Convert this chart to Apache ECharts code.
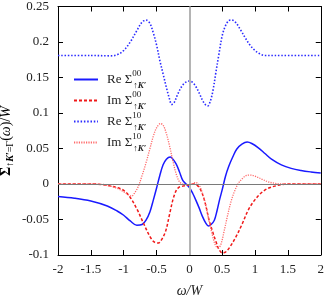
<!DOCTYPE html>
<html><head><meta charset="utf-8">
<script src="https://cdn.jsdelivr.net/npm/echarts@6/dist/echarts.min.js"></script>
<style>html,body{margin:0;padding:0;background:#fff}#c{width:327px;height:303px}</style>
</head><body><div id="c"></div>
<script>
// ---- data ----
const reS00_x = [-2,-1.75,-1.5,-1.25,-1.1,-1.0,-0.9,-0.8,-0.72,-0.66,-0.6,-0.55,-0.5,-0.45,-0.4,-0.35,-0.29,-0.25,-0.2,-0.15,-0.1,-0.05,0,0.05,0.1,0.15,0.2,0.25,0.29,0.33,0.38,0.42,0.46,0.5,0.55,0.6,0.66,0.72,0.8,0.88,0.95,1.05,1.15,1.25,1.4,1.55,1.7,1.85,2];
const reS00_y = [-0.0175,-0.020,-0.024,-0.031,-0.038,-0.044,-0.052,-0.058,-0.057,-0.051,-0.039,-0.023,-0.006,0.012,0.027,0.035,0.038,0.035,0.028,0.017,0.005,0.0,-0.005,-0.013,-0.023,-0.034,-0.046,-0.055,-0.059,-0.057,-0.051,-0.038,-0.022,-0.008,0.011,0.025,0.038,0.049,0.056,0.059,0.057,0.051,0.043,0.035,0.027,0.022,0.019,0.017,0.0155];

const imS00_x = [-2,-1.5,-1.3,-1.2,-1.1,-1.0,-0.9,-0.8,-0.7,-0.6,-0.53,-0.47,-0.42,-0.36,-0.3,-0.25,-0.2,-0.15,-0.1,-0.05,0,0.07,0.12,0.17,0.23,0.3,0.35,0.4,0.45,0.5,0.55,0.6,0.7,0.8,0.9,1.0,1.1,1.2,1.3,1.4,1.5,2];
const imS00_y = [0,0,-0.001,-0.003,-0.005,-0.009,-0.019,-0.035,-0.055,-0.074,-0.082,-0.083,-0.078,-0.066,-0.042,-0.022,-0.009,-0.004,-0.003,-0.002,-0.001,0.0,-0.002,-0.008,-0.023,-0.051,-0.066,-0.080,-0.092,-0.097,-0.096,-0.091,-0.076,-0.057,-0.036,-0.022,-0.012,-0.006,-0.003,-0.001,0,0];

const reS10_x = [-2,-1.5,-1.2,-1.1,-1.0,-0.9,-0.8,-0.72,-0.66,-0.6,-0.55,-0.5,-0.45,-0.4,-0.35,-0.3,-0.27,-0.23,-0.18,-0.12,-0.06,0,0.05,0.1,0.15,0.2,0.25,0.28,0.32,0.36,0.4,0.45,0.5,0.55,0.6,0.64,0.7,0.78,0.85,0.92,1.0,1.08,1.15,1.3,2];
const reS10_y = [0.181,0.181,0.1805,0.182,0.188,0.200,0.216,0.228,0.231,0.226,0.213,0.196,0.174,0.155,0.136,0.119,0.112,0.115,0.126,0.137,0.143,0.145,0.143,0.137,0.128,0.118,0.111,0.110,0.117,0.132,0.155,0.183,0.209,0.223,0.230,0.231,0.228,0.217,0.206,0.196,0.188,0.183,0.181,0.181,0.181];

const imS10_x = [-2,-1.5,-1.3,-1.2,-1.1,-1.0,-0.93,-0.88,-0.83,-0.78,-0.72,-0.65,-0.6,-0.55,-0.5,-0.44,-0.4,-0.35,-0.3,-0.25,-0.2,-0.15,-0.1,-0.05,0,0.05,0.1,0.15,0.2,0.25,0.3,0.35,0.4,0.44,0.48,0.53,0.58,0.63,0.68,0.74,0.8,0.87,0.93,1.0,1.1,1.2,1.3,1.4,2];
const imS10_y = [0,0,-0.001,-0.003,-0.006,-0.011,-0.015,-0.017,-0.012,-0.004,0.012,0.033,0.050,0.067,0.079,0.085,0.083,0.071,0.053,0.032,0.014,0.003,0.0,-0.001,0.0,0.001,0.002,-0.002,-0.013,-0.030,-0.052,-0.072,-0.087,-0.090,-0.085,-0.066,-0.045,-0.026,-0.012,0.0,0.007,0.012,0.0125,0.011,0.007,0.003,0.001,0,0];

const xTickLabels = ['-2','-1.5','-1','-0.5','0','0.5','1','1.5','2'];
const yTickLabels = ['-0.1','-0.05','0','0.05','0.1','0.15','0.2','0.25'];
const seriesNames = ['Re00','Im00','Re10','Im10'];
const legendPrefix = ['Re', 'Im', 'Re', 'Im'];
const legendSup = ['00','00','10','10'];

const pair = (xs, ys) => xs.map((x, i) => [x, ys[i]]);
const FF = 'Liberation Serif';

const chart = echarts.init(document.getElementById('c'), null, {renderer: 'canvas'});
const axisCommon = {
  type: 'value',
  axisLine: {show: true, onZero: false, lineStyle: {color: '#000', width: 1}},
  axisTick: {show: true, inside: true, length: 5, lineStyle: {color: '#000', width: 1}},
  splitLine: {show: false}
};
const lineSeries = (name, data, color, type, width) => ({
  name, type: 'line', data, symbol: 'none', smooth: 0.35, z: 3,
  lineStyle: {color, type, width}, itemStyle: {color}
});

const legendRich = {
  m: {fontFamily: FF, fontSize: 13, color: '#222', lineHeight: 21},
  sup: {fontFamily: FF, fontSize: 9, color: '#222', width: 1, verticalAlign: 'top', lineHeight: 10},
  sb: {fontFamily: FF, fontSize: 9, color: '#222', verticalAlign: 'bottom', lineHeight: 9},
  sk: {fontFamily: FF, fontSize: 9, color: '#222', fontWeight: 'bold', fontStyle: 'italic', verticalAlign: 'bottom', lineHeight: 9}
};

chart.setOption({
  animation: false,
  backgroundColor: '#fff',
  grid: {left: 58, right: 5, top: 6, bottom: 44, containLabel: false},
  xAxis: [
    Object.assign({}, axisCommon, {
      min: -2, max: 2, interval: 0.5, position: 'bottom',
      axisLabel: {fontFamily: FF, fontSize: 13, color: '#222', margin: 8,
        formatter: v => xTickLabels[Math.round((v + 2) / 0.5)]},
      name: 'ω/W', nameLocation: 'middle', nameGap: 29,
      nameTextStyle: {fontFamily: FF, fontStyle: 'italic', fontSize: 14, color: '#222'}
    }),
    Object.assign({}, axisCommon, {
      min: -2, max: 2, interval: 0.5, position: 'top', axisLabel: {show: false}
    })
  ],
  yAxis: [
    Object.assign({}, axisCommon, {
      min: -0.1, max: 0.25, interval: 0.05, position: 'left',
      axisLabel: {fontFamily: FF, fontSize: 13, color: '#222', margin: 9,
        formatter: v => yTickLabels[Math.round((v + 0.1) / 0.05)]}
    }),
    Object.assign({}, axisCommon, {
      min: -0.1, max: 0.25, interval: 0.05, position: 'right', axisLabel: {show: false}
    })
  ],
  legend: {
    left: 68, top: 64, orient: 'vertical', itemWidth: 24, itemHeight: 14, itemGap: 0,
    data: seriesNames,
    itemStyle: {opacity: 0},
    lineStyle: {inactiveWidth: 1.5},
    textStyle: {rich: legendRich, padding: [0, 0, 0, 4]},
    formatter: name => {
      const i = seriesNames.indexOf(name);
      return '{m|' + legendPrefix[i] + ' Σ}{sup|' + legendSup[i] + '}{sb|↑}{sk|K′}';
    }
  },
  graphic: [{
    type: 'text', x: 6, y: 141, rotation: Math.PI / 2, origin: [0, 0],
    style: {
      text: '{b|Σ}{s|↑}{k|K′}{s|=Γ}{n|(}{i|ω}{n|)/}{i|W}',
      align: 'center', verticalAlign: 'middle',
      rich: {
        b: {fontFamily: FF, fontSize: 14, fontWeight: 'bold', color: '#222', lineHeight: 18},
        s: {fontFamily: FF, fontSize: 10, color: '#222', verticalAlign: 'bottom', lineHeight: 10},
        k: {fontFamily: FF, fontSize: 10, color: '#222', fontWeight: 'bold', fontStyle: 'italic', verticalAlign: 'bottom', lineHeight: 10},
        n: {fontFamily: FF, fontSize: 14, color: '#222', lineHeight: 18},
        i: {fontFamily: FF, fontSize: 14, fontStyle: 'italic', color: '#222', lineHeight: 18}
      }
    }
  }],
  series: [
    {
      name: 'zero', type: 'line', data: [], z: 1, silent: true,
      markLine: {
        silent: true, symbol: 'none', label: {show: false}, animation: false,
        data: [
          {xAxis: 0, lineStyle: {color: '#b4b4b4', width: 2, type: 'solid'}},
          {yAxis: 0, lineStyle: {color: '#7a7a7a', width: 1, type: 'solid'}}
        ]
      }
    },
    lineSeries('Re00', pair(reS00_x, reS00_y), '#1a1aff', 'solid', 1.5),
    lineSeries('Im00', pair(imS00_x, imS00_y), '#f01818', [3, 2], 1.5),
    lineSeries('Re10', pair(reS10_x, reS10_y), '#2a2aff', [1.5, 1.8], 1.6),
    lineSeries('Im10', pair(imS10_x, imS10_y), '#ff6a6a', [1.2, 1.2], 1.3)
  ]
});
</script></body></html>
